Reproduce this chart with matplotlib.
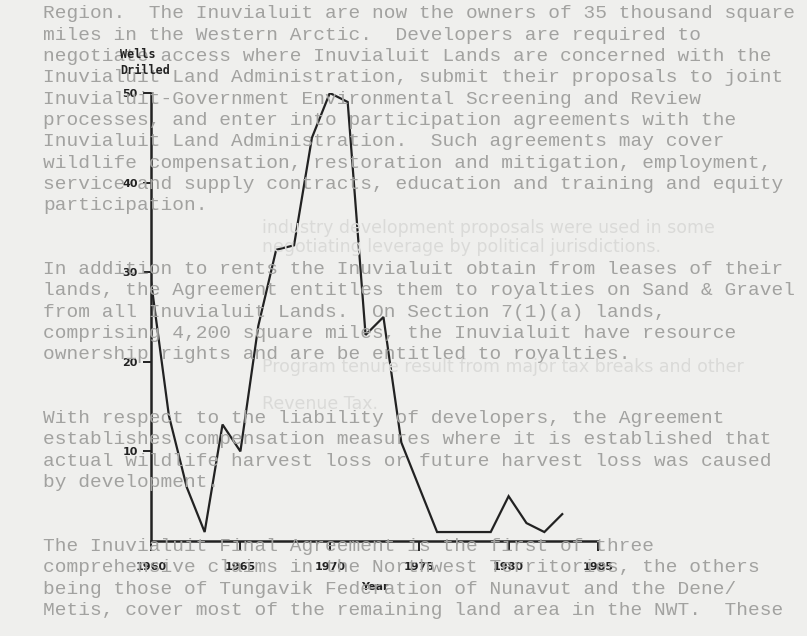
import matplotlib.pyplot as plt

# wells drilled per year
years = [1960, 1961, 1962, 1963, 1964, 1965, 1966, 1967, 1968, 1969, 1970, 1971,
         1972, 1973, 1974, 1975, 1976, 1977, 1978, 1979, 1980, 1981, 1982, 1983]
wells = [29, 14, 6, 1, 13, 10, 24, 32.5, 33, 45, 50, 49,
         23, 25, 11, 6, 1, 1, 1, 1, 5, 2, 1, 3]
xticks = [1960, 1965, 1970, 1975, 1980, 1985]
yticks = [10, 20, 30, 40, 50]

# typed page text showing through the scan
page_lines = [
    "Region.  The Inuvialuit are now the owners of 35 thousand square",
    "miles in the Western Arctic.  Developers are required to",
    "negotiate access where Inuvialuit Lands are concerned with the",
    "Inuvialuit Land Administration, submit their proposals to joint",
    "Inuvialuit-Government Environmental Screening and Review",
    "processes, and enter into participation agreements with the",
    "Inuvialuit Land Administration.  Such agreements may cover",
    "wildlife compensation, restoration and mitigation, employment,",
    "service and supply contracts, education and training and equity",
    "participation.",
    "",
    "",
    "In addition to rents the Inuvialuit obtain from leases of their",
    "lands, the Agreement entitles them to royalties on Sand & Gravel",
    "from all Inuvialuit Lands.  On Section 7(1)(a) lands,",
    "comprising 4,200 square miles, the Inuvialuit have resource",
    "ownership rights and are be entitled to royalties.",
    "",
    "",
    "With respect to the liability of developers, the Agreement",
    "establishes compensation measures where it is established that",
    "actual wildlife harvest loss or future harvest loss was caused",
    "by development.",
    "",
    "",
    "The Inuvialuit Final Agreement is the first of three",
    "comprehensive claims in the Northwest Territories, the others",
    "being those of Tungavik Federation of Nunavut and the Dene/",
    "Metis, cover most of the remaining land area in the NWT.  These",
]

# fainter text from the reverse side of the sheet
ghost_lines = [
    (228, "industry development proposals were used in some"),
    (247, "negotiating leverage by political jurisdictions."),
    (367, "Program tenure result from major tax breaks and other"),
    (404, "Revenue Tax."),
]

paper = '#efefed'
ink = '#222222'

fig = plt.figure(figsize=(8.07, 6.36), dpi=100, facecolor=paper)

for y, line in ghost_lines:
    fig.text(262 / 807, 1 - y / 636, line, family='DejaVu Sans',
             fontsize=12.5, color='#dadad8', va='center', ha='left', zorder=0)

# page text behind the chart
for i, line in enumerate(page_lines):
    fig.text(43 / 807, 1 - (14 + i * 21.3) / 636, line, family='Liberation Mono',
             fontsize=14, color='#a2a2a0', va='center', ha='left', zorder=0)

ax = fig.add_axes([151 / 807, 1 - 541 / 636, 447 / 807, 448 / 636])
ax.set_facecolor('none')
ax.plot(years, wells, color=ink, linewidth=1.6, solid_joinstyle='miter')

ax.set_xlim(1960, 1985)
ax.set_ylim(0, 50)
ax.set_xticks(xticks)
ax.set_yticks(yticks)
for s in ['top', 'right']:
    ax.spines[s].set_visible(False)
for s in ['left', 'bottom']:
    ax.spines[s].set_linewidth(1.8)
    ax.spines[s].set_color(ink)
ax.tick_params(axis='x', length=7, width=1.4, color=ink, pad=8)
ax.tick_params(axis='y', length=5.5, width=1.4, color=ink, pad=4)
for lab in ax.get_xticklabels() + ax.get_yticklabels():
    lab.set_fontweight('bold')
    lab.set_fontsize(8)
    lab.set_color(ink)

ax.set_xlabel('Year', fontsize=8, fontweight='bold', color=ink, labelpad=7)
fig.text(120 / 807, 1 - 55 / 636, 'Wells', family='DejaVu Sans Mono', fontweight='bold',
         fontsize=8.5, color=ink, va='center', ha='left')
fig.text(120 / 807, 1 - 71 / 636, 'Drilled', family='DejaVu Sans Mono', fontweight='bold',
         fontsize=8.5, color=ink, va='center', ha='left')

fig.savefig('out.png', dpi=100, facecolor=paper)
